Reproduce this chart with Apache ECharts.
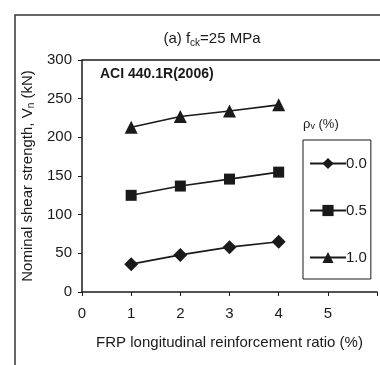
<!DOCTYPE html>
<html>
<head>
<meta charset="utf-8">
<script src="https://cdn.jsdelivr.net/npm/echarts@6/dist/echarts.min.js"></script>
<style>
  html, body { margin: 0; padding: 0; background: #fff; }
  #chart { width: 380px; height: 365px; }
</style>
</head>
<body>
<div id="chart"></div>
<script>
// FRP longitudinal reinforcement ratio (%)
const ratios = [1, 2, 3, 4];
// nominal shear strength Vn (kN) for each stirrup ratio
const rho00 = [36, 48, 58, 65];
const rho05 = [125, 137, 146, 155];
const rho10 = [213, 227, 234, 242];
const seriesNames = ['0.0', '0.5', '1.0'];

const font = 'Liberation Sans, Arial, sans-serif';
const ink = '#1a1a1a';

function pairs(vals) {
  return ratios.map((x, i) => [x, vals[i]]);
}

function lineSeries(name, vals, symbol, size) {
  return {
    name,
    type: 'line',
    data: pairs(vals),
    symbol,
    symbolSize: size,
    lineStyle: { color: ink, width: 1.6 },
    itemStyle: { color: ink },
    animation: false
  };
}

const chart = echarts.init(document.getElementById('chart'));
chart.setOption({
  backgroundColor: '#fff',
  textStyle: { fontFamily: font },
  grid: { left: 82, top: 60, right: 0, bottom: 73 },
  title: {
    text: '(a) f{sub|ck}=25 MPa',
    left: 207,
    top: 25,
    textAlign: 'center',
    textStyle: {
      fontFamily: font, fontSize: 15, fontWeight: 'normal', color: ink,
      rich: { sub: { fontFamily: font, fontSize: 10, color: ink, padding: [8, 0, 0, 0] } }
    }
  },
  legend: {
    orient: 'vertical',
    left: 303,
    top: 140,
    width: 74,
    height: 142,
    padding: [16, 4, 14, 6],
    itemGap: 32,
    itemWidth: 36,
    itemHeight: 14,
    borderColor: ink,
    borderWidth: 1,
    data: seriesNames,
    textStyle: { fontFamily: font, fontSize: 15, color: ink, padding: [0, 0, 0, -5] }
  },
  xAxis: {
    type: 'value',
    min: 0, max: 6, interval: 1,
    name: 'FRP longitudinal reinforcement ratio (%)',
    nameLocation: 'middle',
    nameGap: 43,
    nameTextStyle: { fontFamily: font, fontSize: 15, color: ink, verticalAlign: 'top' },
    axisLine: { lineStyle: { color: ink, width: 1.5 } },
    axisTick: { show: true, length: 4, inside: false, lineStyle: { color: ink } },
    axisLabel: {
      fontFamily: font, fontSize: 15, color: ink, margin: 14,
      formatter: v => (v > 5 ? '' : v)
    },
    splitLine: { show: false }
  },
  yAxis: {
    type: 'value',
    min: 0, max: 300, interval: 50,
    name: 'Nominal shear strength, V{sub|n} (kN)',
    nameLocation: 'middle',
    nameGap: 46,
    nameTextStyle: {
      fontFamily: font, fontSize: 15, color: ink,
      rich: { sub: { fontFamily: font, fontSize: 10, color: ink, padding: [7, 0, 0, 0] } }
    },
    axisLine: { show: true, lineStyle: { color: ink, width: 1.5 } },
    axisTick: { show: true, length: 4, lineStyle: { color: ink } },
    axisLabel: { fontFamily: font, fontSize: 15, color: ink, margin: 10 },
    splitLine: { show: false }
  },
  graphic: [
    {
      type: 'rect',
      shape: { x: 15, y: 15, width: 400, height: 400 },
      style: { fill: 'none', stroke: '#333', lineWidth: 1.5 },
      silent: true
    },
    {
      type: 'line',
      shape: { x1: 82, y1: 60, x2: 380, y2: 60 },
      style: { stroke: ink, lineWidth: 1.5 },
      silent: true
    },
    {
      type: 'text',
      left: 100, top: 67,
      style: { text: 'ACI 440.1R(2006)', fontFamily: font, fontSize: 14, fontWeight: 'bold', fill: ink }
    },
    {
      type: 'text',
      left: 303, top: 118,
      style: {
        text: 'ρ{sub|v} (%)',
        fontFamily: font, fontSize: 13, fill: ink,
        rich: { sub: { fontFamily: font, fontSize: 9, fill: ink, padding: [5, 0, 0, 0] } }
      }
    }
  ],
  series: [
    lineSeries('0.0', rho00, 'diamond', 14),
    lineSeries('0.5', rho05, 'rect', 11),
    lineSeries('1.0', rho10, 'triangle', 13)
  ]
});
</script>
</body>
</html>
